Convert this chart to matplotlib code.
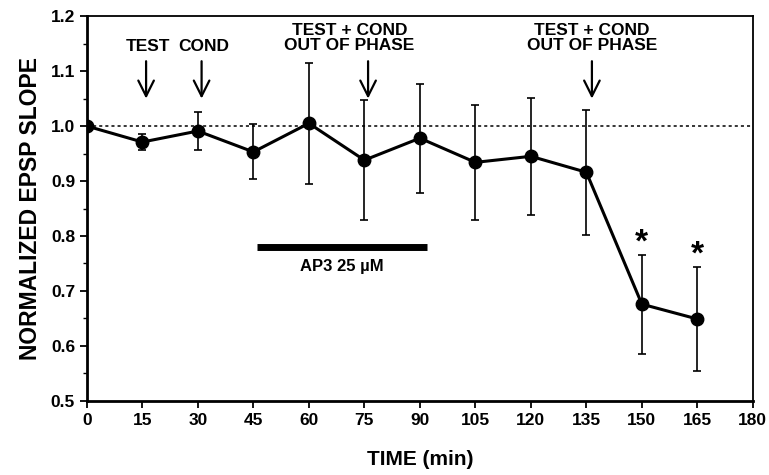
import numpy as np
import matplotlib.pyplot as plt
from matplotlib.ticker import MultipleLocator

plt.rcParams['font.family'] = ['Liberation Sans', 'DejaVu Sans']
plt.rcParams['font.weight'] = 'bold'

# data
time = [0, 15, 30, 45, 60, 75, 90, 105, 120, 135, 150, 165]
slope = [1.00, 0.971, 0.991, 0.953, 1.005, 0.938, 0.978, 0.934, 0.945, 0.916, 0.676, 0.649]
err = [0.0, 0.015, 0.035, 0.05, 0.11, 0.109, 0.099, 0.104, 0.106, 0.114, 0.09, 0.095]

stars_x = [150, 165]
stars_y = [0.788, 0.766]

drug_start, drug_end, drug_level = 46, 92, 0.78
arrow_x = [16, 31, 76, 136.5]

fig = plt.figure(figsize=(7.69, 4.75), dpi=100)
ax = fig.add_axes([0.113, 0.156, 0.866, 0.81])

ax.axhline(1.0, color='black', lw=1.1, ls=(0, (2, 2)), zorder=1)
ax.errorbar(time, slope, yerr=err, color='black', lw=2.2, marker='o', ms=9,
            ecolor='black', elinewidth=1.2, capsize=3, capthick=1.2, zorder=3)

for x, y in zip(stars_x, stars_y):
    ax.text(x, y, '*', ha='center', va='center', fontsize=24, fontweight='bold')

# AP3 bar
ax.plot([drug_start, drug_end], [drug_level, drug_level], color='black', lw=5,
        solid_capstyle='butt')
ax.text((drug_start + drug_end) / 2, 0.744, 'AP3 25 \u00b5M', ha='center',
        va='center', fontsize=12, fontweight='bold')

# arrows
for x in arrow_x:
    ax.annotate('', xy=(x, 1.05), xytext=(x, 1.118),
                arrowprops=dict(arrowstyle='->,head_width=0.35,head_length=0.7',
                                color='black', lw=1.6,
                                mutation_scale=16, shrinkA=0, shrinkB=0))

ax.text(arrow_x[0] + 0.5, 1.145, 'TEST', ha='center', va='center', fontsize=12.5)
ax.text(arrow_x[1] + 0.5, 1.145, 'COND', ha='center', va='center', fontsize=12.5)
ax.text(71, 1.16, 'TEST + COND\nOUT OF PHASE', ha='center', va='center',
        fontsize=12.5, linespacing=0.95)
ax.text(136.5, 1.16, 'TEST + COND\nOUT OF PHASE', ha='center', va='center',
        fontsize=12.5, linespacing=0.95)

ax.set_xlim(0, 180)
ax.set_ylim(0.5, 1.2)
ax.set_xticks(np.arange(0, 181, 15))
ax.set_yticks(np.arange(0.5, 1.21, 0.1))
ax.yaxis.set_minor_locator(MultipleLocator(0.05))
ax.set_yticklabels(['%.1f' % v for v in np.arange(0.5, 1.21, 0.1)])
ax.tick_params(axis='both', labelsize=12.5, width=1.3, length=5, direction='out')
ax.tick_params(axis='y', which='minor', length=3, width=1)
for lab in ax.get_xticklabels() + ax.get_yticklabels():
    lab.set_fontweight('bold')

for side in ['left', 'bottom']:
    ax.spines[side].set_linewidth(2)
for side in ['top', 'right']:
    ax.spines[side].set_linewidth(1.3)

ax.set_ylabel('NORMALIZED EPSP SLOPE', fontsize=16.5, fontweight='bold', labelpad=6)
ax.set_xlabel('TIME (min)', fontsize=15, fontweight='bold', labelpad=16)

fig.savefig('out.png', dpi=100)
